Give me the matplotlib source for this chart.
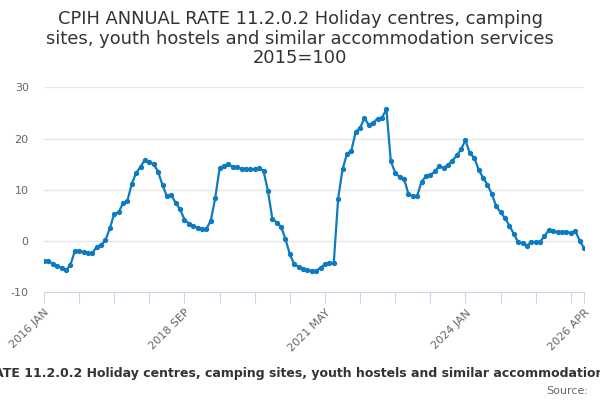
import matplotlib
matplotlib.use("Agg")
import matplotlib.pyplot as plt
import pandas as pd

# Monthly annual rate, 2016 JAN .. 2026 APR
months = pd.date_range("2016-01-01", "2026-04-01", freq="MS")
rates = [
    -3.9, -3.8, -4.5, -4.8, -5.2, -5.7, -4.7, -2.0, -2.0, -2.1, -2.3, -2.4,
    -1.1, -0.8, 0.2, 2.5, 5.3, 5.6, 7.4, 7.9, 11.2, 13.3, 14.5, 15.9,
    15.4, 15.0, 13.5, 10.9, 8.7, 9.0, 7.4, 6.2, 4.2, 3.4, 3.0, 2.6,
    2.3, 2.4, 4.0, 8.4, 14.2, 14.7, 15.0, 14.4, 14.5, 14.1, 14.1, 14.0,
    14.0, 14.2, 13.7, 9.8, 4.4, 3.6, 2.8, 0.4, -2.6, -4.5, -5.0, -5.5,
    -5.7, -5.8, -5.8, -5.2, -4.5, -4.2, -4.3, 8.3, 14.0, 17.0, 17.6, 21.3,
    22.1, 24.0, 22.6, 23.1, 23.9, 24.1, 25.7, 15.6, 13.3, 12.5, 12.2, 9.2,
    8.7, 8.8, 11.6, 12.6, 12.8, 13.6, 14.6, 14.3, 14.8, 15.7, 16.7, 17.9,
    19.7, 17.1, 16.3, 13.9, 12.4, 11.0, 9.2, 6.8, 5.6, 4.5, 3.0, 1.4,
    -0.2, -0.4, -0.9, -0.1, -0.2, -0.1, 0.9, 2.2, 2.0, 1.7, 1.8, 1.7,
    1.6, 2.0, 0.1, -1.4,
]
y_ticks = [-10, 0, 10, 20, 30]
title = ("CPIH ANNUAL RATE 11.2.0.2 Holiday centres, camping sites, youth hostels "
         "and similar accommodation services 2015=100")

labels = [d.strftime("%Y %b").upper() for d in months]
x = list(range(len(rates)))

fig = plt.figure(figsize=(6, 4), dpi=100)
ax = fig.add_axes([44 / 600, 1 - 292.3 / 400, 540 / 600, 205 / 400])

ax.plot(x, rates, color="#0c7bc2", lw=1.6, marker="o", ms=2.8, zorder=3)

ax.set_xlim(0, len(rates) - 1)
ax.set_ylim(-10, 30)
ax.set_yticks(y_ticks)
ax.set_yticklabels([str(v) for v in y_ticks])
ax.grid(axis="y", color="#e6e6e6", lw=1)
ax.set_axisbelow(True)

major = list(range(0, len(rates), 8)) + [len(rates) - 1]
ax.set_xticks(major)
ax.set_xticklabels([labels[i] if (i % 32 == 0 or i == len(rates) - 1) else "" for i in major],
                   rotation=45, ha="right", rotation_mode="anchor")

for s in ["top", "right", "left"]:
    ax.spines[s].set_visible(False)
ax.spines["bottom"].set_color("#ccd6eb")
ax.tick_params(axis="x", length=8, color="#ccd6eb", labelsize=8, labelcolor="#666666", pad=3)
ax.tick_params(axis="y", length=0, labelsize=8, labelcolor="#666666", pad=11)

fig.text(0.5, 0.975, "CPIH ANNUAL RATE 11.2.0.2 Holiday centres, camping\n"
         "sites, youth hostels and similar accommodation services\n2015=100",
         ha="center", va="top", fontsize=12.9, color="#333333", linespacing=1.12)

# the long caption overflows the figure in the reference too
fig.text(313.5 / 600, 1 - 373 / 400, title, ha="center", va="center", fontsize=9,
         fontweight="bold", color="#333333")
fig.text(588 / 600, 1 - 391 / 400, "Source:", ha="right", va="center", fontsize=8,
         color="#666666")

fig.savefig("out.png", dpi=100)
